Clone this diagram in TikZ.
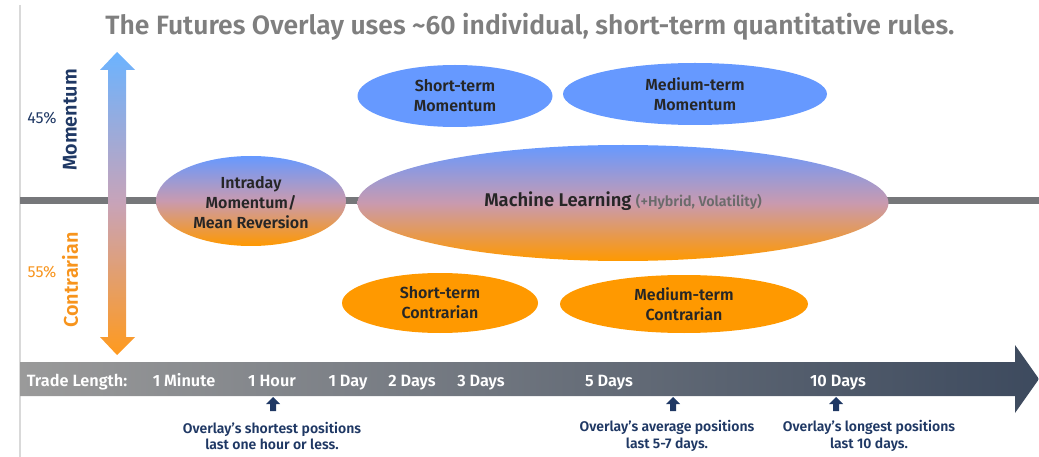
\documentclass[tikz,border=0pt]{standalone}
\usepackage{fontspec}
\setmainfont{Fira Sans}[BoldFont={Fira Sans SemiBold}]
\usetikzlibrary{shapes.geometric}
\definecolor{blueE}{HTML}{6699FF}
\definecolor{orangeE}{HTML}{FF9900}
\definecolor{midE}{HTML}{C99AAF}
\definecolor{arrTop}{HTML}{6BB3FF}
\definecolor{arrMid}{HTML}{C8A3B8}
\definecolor{arrBot}{HTML}{FF9A1E}
\definecolor{navy}{HTML}{1F3864}
\definecolor{orangeT}{HTML}{F7941D}
\definecolor{titlegray}{HTML}{7F7F7F}
\definecolor{subgray}{HTML}{6B6B6B}
\definecolor{linegray}{HTML}{76777A}
\definecolor{txt}{HTML}{262626}
\definecolor{barL}{HTML}{9A9A9A}
\definecolor{barR}{HTML}{3D4A5E}
\definecolor{frame}{HTML}{D9D9D9}
\begin{document}
\begin{tikzpicture}[x=1pt,y=-1pt,
  elab/.style={font=\bfseries\fontsize{16}{20}\selectfont, text=txt, align=center},
  grad/.style={ellipse, inner sep=0pt, top color=blueE, bottom color=orangeE, middle color=midE},
  momE/.style={ellipse, inner sep=0pt, fill=blueE},
  conE/.style={ellipse, inner sep=0pt, fill=orangeE},
  tick/.style={font=\bfseries\fontsize{16.3}{18}\selectfont, text=white, anchor=base},
  note/.style={font=\bfseries\fontsize{14}{16.5}\selectfont, text=navy, align=center},
  uparrow/.style={fill=navy}]
\useasboundingbox (0,0) rectangle (1039,457);
% frame line
\coordinate (fl1) at (20,5);
\coordinate (fl2) at (20,457);
\draw[frame, line width=1.2pt] (fl1) -- (fl2);
% title
\node[font=\bfseries\fontsize{26.5}{30}\selectfont, text=titlegray] (title) at (530,27) {The Futures Overlay uses \textasciitilde 60 individual, short-term quantitative rules.};
% horizontal axis line
\coordinate (h1) at (20,201);
\coordinate (h2) at (1039,201);
\draw[linegray, line width=7pt] (h1) -- (h2);
% vertical double arrow
\path[top color=arrTop, bottom color=arrBot, middle color=arrMid]
  (108,70) -- (100,70) -- (117,52) -- (135,70) -- (126,70) -- (126,337) -- (135,337) -- (117,355) -- (100,337) -- (108,337) -- cycle;
\node[rotate=90, font=\bfseries\fontsize{19.8}{22}\selectfont, text=navy] (mom) at (70,120) {Momentum};
\node[rotate=90, font=\bfseries\fontsize{19.8}{22}\selectfont, text=orangeT] (con) at (70,280) {Contrarian};
\node[font=\fontsize{16}{18}\selectfont, text=navy] (p45) at (42,118) {45\%};
\node[font=\fontsize{16}{18}\selectfont, text=orangeT] (p55) at (42,272) {55\%};
% ellipses
\node[grad, minimum width=190pt, minimum height=90pt] (intra) at (251,201) {};
\node[elab] at (251,203) {Intraday\\Momentum/\\Mean Reversion};
\node[grad, minimum width=531pt, minimum height=116pt] (ml) at (623,203) {};
\node[elab, anchor=base, font=\bfseries\fontsize{18.4}{20}\selectfont] (mltext) at (623,207) {Machine Learning \textcolor{subgray}{\fontsize{14.3}{16}\selectfont(+Hybrid, Volatility)}};
\node[momE, minimum width=195pt, minimum height=62pt] (stm) at (455,96) {};
\node[elab] at (stm) {Short-term\\Momentum};
\node[momE, minimum width=264pt, minimum height=62pt] (mtm) at (695,94) {};
\node[elab] at (mtm) {Medium-term\\Momentum};
\node[conE, minimum width=196pt, minimum height=60pt] (stc) at (440,303) {};
\node[elab] at (stc) {Short-term\\Contrarian};
\node[conE, minimum width=248pt, minimum height=58pt] (mtc) at (684,304) {};
\node[elab] at (mtc) {Medium-term\\Contrarian};
% bottom arrow
\path[left color=barL, right color=barR]
  (20,362) -- (1015,362) -- (1015,345) -- (1039,379) -- (1015,413) -- (1015,396) -- (20,396) -- cycle;
\node[tick] (tl) at (77,386) {Trade Length:};
\node[tick] (t1m) at (184,386) {1 Minute};
\node[tick] (t1h) at (272,386) {1 Hour};
\node[tick] (t1d) at (348,386) {1 Day};
\node[tick] (t2d) at (412,386) {2 Days};
\node[tick] (t3d) at (481,386) {3 Days};
\node[tick] (t5d) at (609,386) {5 Days};
\node[tick] (t10d) at (838,386) {10 Days};
% small up arrows
\foreach \c/\n in {273/a1,673/a2,836/a3}{
  \path[uparrow] (\c,397) -- (\c+7,404) -- (\c+3,404) -- (\c+3,411) -- (\c-3,411) -- (\c-3,404) -- (\c-7,404) -- cycle;
}
\node[note] (n1) at (272,436) {Overlay’s shortest positions\\last one hour or less.};
\node[note] (n2) at (667,436) {Overlay’s average positions\\last 5-7 days.};
\node[note] (n3) at (869,436) {Overlay’s longest positions\\last 10 days.};
\end{tikzpicture}
\end{document}
